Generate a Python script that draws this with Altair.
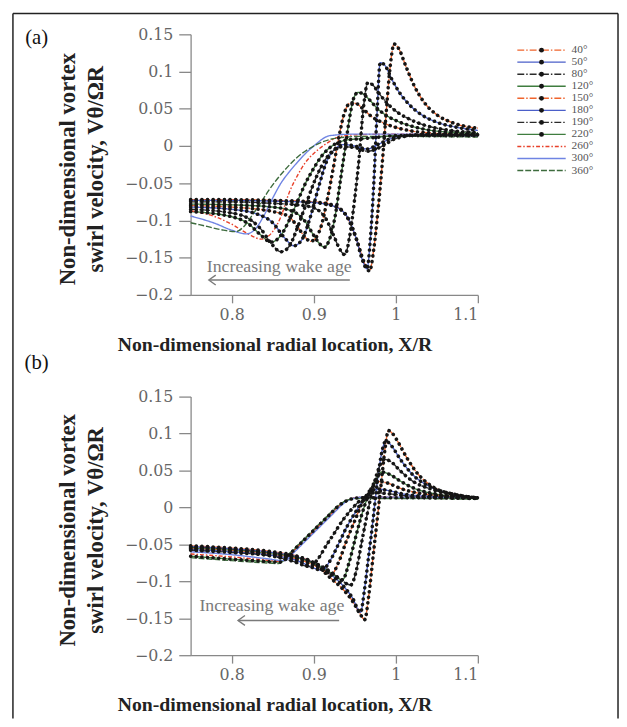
import altair as alt
import pandas as pd

# ---------------- legend / series definitions ----------------
AGES = ["40°", "50°", "80°", "120°", "150°", "180°", "190°", "220°", "260°", "300°", "360°"]
LINE_COLORS = ["#f0642d", "#4b5fc9", "#2b2b2b", "#3f7d3f", "#f0642d", "#4b5fc9",
               "#2b2b2b", "#3f7d3f", "#e8412a", "#6f84e3", "#3d6b3d"]
DASHES = [[7, 2, 1.5, 2], [1, 0], [7, 2, 1.5, 2], [1, 0], [7, 2, 1.5, 2], [1, 0],
          [7, 2, 1.5, 2], [1, 0], [4, 2, 1.5, 2], [1, 0], [6, 2]]
HAS_DOTS = [True, True, True, True, True, True, True, True, False, False, False]

X_TICKS = [0.8, 0.9, 1.0, 1.1]
Y_TICKS = [-0.2, -0.15, -0.1, -0.05, 0, 0.05, 0.1, 0.15]

# ---------------- panel (a) ----------------
A40_X = [0.75, 0.80, 0.85, 0.90, 0.925, 0.942, 0.953, 0.961, 0.968, 0.973, 0.978, 0.983, 0.988, 0.993, 0.998, 1.004, 1.012, 1.022, 1.035, 1.05, 1.07, 1.1]
A40_Y = [-0.072, -0.072, -0.073, -0.075, -0.080, -0.098, -0.128, -0.155, -0.168, -0.140, -0.090, -0.030, 0.040, 0.105, 0.137, 0.130, 0.108, 0.082, 0.058, 0.042, 0.031, 0.024]
A50_X = [0.75, 0.80, 0.85, 0.90, 0.925, 0.942, 0.952, 0.959, 0.965, 0.969, 0.973, 0.977, 0.981, 0.987, 0.995, 1.005, 1.017, 1.030, 1.050, 1.075, 1.1]
A50_Y = [-0.073, -0.073, -0.074, -0.076, -0.081, -0.097, -0.125, -0.152, -0.165, -0.125, -0.055, 0.040, 0.112, 0.108, 0.090, 0.071, 0.055, 0.043, 0.032, 0.025, 0.021]
A80_X = [0.75, 0.80, 0.85, 0.88, 0.90, 0.915, 0.925, 0.932, 0.938, 0.944, 0.950, 0.955, 0.960, 0.966, 0.972, 0.980, 0.990, 1.000, 1.015, 1.035, 1.06, 1.1]
A80_Y = [-0.075, -0.075, -0.077, -0.079, -0.083, -0.098, -0.122, -0.139, -0.146, -0.120, -0.070, -0.020, 0.045, 0.085, 0.082, 0.070, 0.057, 0.047, 0.037, 0.028, 0.022, 0.018]
A120_X = [0.75, 0.80, 0.85, 0.875, 0.89, 0.90, 0.907, 0.913, 0.919, 0.926, 0.932, 0.938, 0.944, 0.949, 0.954, 0.960, 0.968, 0.978, 0.990, 1.005, 1.025, 1.05, 1.1]
A120_Y = [-0.078, -0.079, -0.082, -0.088, -0.102, -0.120, -0.131, -0.136, -0.126, -0.095, -0.050, -0.005, 0.040, 0.065, 0.072, 0.070, 0.062, 0.050, 0.040, 0.032, 0.025, 0.020, 0.017]
A150_X = [0.75, 0.80, 0.85, 0.87, 0.88, 0.89, 0.896, 0.902, 0.909, 0.916, 0.923, 0.930, 0.937, 0.945, 0.952, 0.960, 0.970, 0.985, 1.000, 1.020, 1.050, 1.1]
A150_Y = [-0.080, -0.082, -0.088, -0.095, -0.108, -0.123, -0.128, -0.124, -0.108, -0.075, -0.035, 0.008, 0.043, 0.058, 0.057, 0.050, 0.040, 0.031, 0.025, 0.020, 0.017, 0.015]
A180_X = [0.75, 0.80, 0.83, 0.85, 0.865, 0.876, 0.886, 0.896, 0.906, 0.916, 0.926, 0.937, 0.950, 0.965, 0.980, 1.000, 1.030, 1.1]
A180_Y = [-0.082, -0.085, -0.091, -0.103, -0.124, -0.134, -0.125, -0.095, -0.055, -0.020, -0.004, 0.002, 0.000, -0.004, 0.003, 0.012, 0.015, 0.015]
A190_X = [0.75, 0.80, 0.82, 0.836, 0.849, 0.860, 0.870, 0.880, 0.890, 0.900, 0.910, 0.920, 0.935, 0.950, 0.966, 0.982, 1.000, 1.030, 1.1]
A190_Y = [-0.085, -0.090, -0.097, -0.112, -0.132, -0.142, -0.135, -0.110, -0.080, -0.050, -0.026, -0.010, -0.001, -0.002, -0.007, -0.001, 0.010, 0.015, 0.015]
A220_X = [0.75, 0.80, 0.82, 0.835, 0.848, 0.860, 0.870, 0.880, 0.890, 0.900, 0.910, 0.925, 0.940, 0.960, 0.980, 1.000, 1.1]
A220_Y = [-0.088, -0.095, -0.104, -0.119, -0.129, -0.120, -0.100, -0.075, -0.050, -0.030, -0.013, 0.002, 0.008, 0.010, 0.012, 0.014, 0.014]
A260_X = [0.75, 0.78, 0.80, 0.82, 0.836, 0.850, 0.860, 0.870, 0.880, 0.890, 0.900, 0.915, 0.930, 0.950, 1.000, 1.1]
A260_Y = [-0.087, -0.095, -0.105, -0.118, -0.125, -0.115, -0.095, -0.063, -0.040, -0.022, -0.010, 0.003, 0.012, 0.015, 0.016, 0.014]
A300_X = [0.75, 0.78, 0.80, 0.818, 0.830, 0.840, 0.850, 0.860, 0.870, 0.880, 0.890, 0.900, 0.920, 0.950, 1.000, 1.1]
A300_Y = [-0.094, -0.104, -0.113, -0.118, -0.110, -0.092, -0.070, -0.050, -0.035, -0.022, -0.010, 0.000, 0.014, 0.016, 0.016, 0.013]
A360_X = [0.75, 0.77, 0.79, 0.805, 0.815, 0.825, 0.835, 0.845, 0.855, 0.865, 0.880, 0.900, 0.930, 0.960, 1.000, 1.1]
A360_Y = [-0.103, -0.108, -0.113, -0.115, -0.108, -0.093, -0.077, -0.060, -0.045, -0.032, -0.015, 0.000, 0.011, 0.013, 0.013, 0.012]

# ---------------- panel (b) ----------------
B40_X = [0.75, 0.80, 0.85, 0.88, 0.90, 0.92, 0.935, 0.948, 0.957, 0.962, 0.967, 0.972, 0.977, 0.982, 0.987, 0.991, 0.996, 1.003, 1.012, 1.025, 1.045, 1.075, 1.1]
B40_Y = [-0.052, -0.055, -0.060, -0.066, -0.075, -0.095, -0.110, -0.128, -0.145, -0.152, -0.120, -0.070, -0.020, 0.030, 0.080, 0.104, 0.100, 0.088, 0.070, 0.048, 0.028, 0.017, 0.013]
B50_X = [0.75, 0.80, 0.85, 0.88, 0.90, 0.92, 0.935, 0.947, 0.957, 0.962, 0.967, 0.972, 0.977, 0.983, 0.988, 0.995, 1.005, 1.02, 1.04, 1.07, 1.1]
B50_Y = [-0.053, -0.056, -0.061, -0.067, -0.075, -0.090, -0.105, -0.122, -0.142, -0.110, -0.065, -0.020, 0.030, 0.075, 0.090, 0.083, 0.066, 0.045, 0.029, 0.018, 0.013]
B80_X = [0.75, 0.80, 0.85, 0.88, 0.90, 0.915, 0.93, 0.945, 0.952, 0.958, 0.965, 0.972, 0.979, 0.986, 0.994, 1.005, 1.02, 1.045, 1.075, 1.1]
B80_Y = [-0.054, -0.057, -0.062, -0.068, -0.075, -0.083, -0.095, -0.105, -0.085, -0.050, -0.010, 0.025, 0.052, 0.065, 0.062, 0.050, 0.036, 0.024, 0.016, 0.013]
B120_X = [0.75, 0.80, 0.85, 0.88, 0.90, 0.92, 0.935, 0.943, 0.95, 0.958, 0.966, 0.975, 0.983, 0.992, 1.005, 1.02, 1.05, 1.1]
B120_Y = [-0.055, -0.058, -0.063, -0.068, -0.076, -0.088, -0.098, -0.075, -0.045, -0.012, 0.015, 0.036, 0.048, 0.045, 0.036, 0.027, 0.018, 0.013]
B150_X = [0.75, 0.80, 0.85, 0.88, 0.90, 0.912, 0.922, 0.93, 0.94, 0.95, 0.96, 0.97, 0.98, 0.99, 1.005, 1.03, 1.1]
B150_Y = [-0.056, -0.059, -0.064, -0.070, -0.078, -0.085, -0.090, -0.075, -0.045, -0.018, 0.008, 0.025, 0.035, 0.033, 0.026, 0.019, 0.013]
B180_X = [0.75, 0.80, 0.85, 0.88, 0.90, 0.91, 0.92, 0.93, 0.94, 0.95, 0.962, 0.977, 0.99, 1.01, 1.04, 1.1]
B180_Y = [-0.057, -0.060, -0.065, -0.072, -0.082, -0.085, -0.072, -0.050, -0.027, -0.008, 0.012, 0.025, 0.023, 0.018, 0.015, 0.013]
B190_X = [0.75, 0.80, 0.85, 0.875, 0.895, 0.905, 0.915, 0.925, 0.935, 0.945, 0.955, 0.975, 0.995, 1.03, 1.1]
B190_Y = [-0.058, -0.061, -0.066, -0.073, -0.080, -0.070, -0.052, -0.035, -0.018, -0.004, 0.008, 0.020, 0.018, 0.014, 0.013]
B220_X = [0.75, 0.80, 0.84, 0.860, 0.870, 0.880, 0.890, 0.900, 0.910, 0.920, 0.930, 0.940, 0.955, 0.980, 1.020, 1.1]
B220_Y = [-0.066, -0.070, -0.073, -0.074, -0.064, -0.053, -0.042, -0.031, -0.020, -0.009, 0.002, 0.009, 0.013, 0.013, 0.013, 0.012]
B260_X = [0.75, 0.80, 0.84, 0.862, 0.872, 0.882, 0.892, 0.902, 0.912, 0.922, 0.932, 0.942, 0.957, 0.980, 1.020, 1.1]
B260_Y = [-0.063, -0.067, -0.071, -0.073, -0.063, -0.052, -0.041, -0.030, -0.019, -0.008, 0.003, 0.010, 0.014, 0.014, 0.014, 0.013]
B300_X = [0.75, 0.80, 0.84, 0.865, 0.875, 0.885, 0.895, 0.905, 0.915, 0.925, 0.935, 0.945, 0.960, 0.980, 1.020, 1.1]
B300_Y = [-0.060, -0.064, -0.069, -0.072, -0.062, -0.051, -0.040, -0.029, -0.018, -0.007, 0.004, 0.011, 0.014, 0.014, 0.014, 0.013]
B360_X = [0.75, 0.80, 0.84, 0.857, 0.867, 0.877, 0.887, 0.897, 0.907, 0.917, 0.927, 0.937, 0.952, 0.980, 1.020, 1.1]
B360_Y = [-0.068, -0.072, -0.075, -0.076, -0.066, -0.055, -0.044, -0.033, -0.022, -0.011, 0.000, 0.008, 0.012, 0.012, 0.012, 0.011]

# ---------------- annotations ----------------
ANN_TEXT = ["Increasing wake age"]
ANN_A_TEXT_X = [0.858]
ANN_A_TEXT_Y = [-0.163]
ANN_A_ARROW_X = [0.7724]
ANN_A_ARROW_X2 = [0.944]
ANN_A_ARROW_Y = [-0.180]
ANN_B_TEXT_X = [0.849]
ANN_B_TEXT_Y = [-0.133]
ANN_B_ARROW_X = [0.808]
ANN_B_ARROW_X2 = [0.931]
ANN_B_ARROW_Y = [-0.153]

A_SERIES = [(A40_X, A40_Y), (A50_X, A50_Y), (A80_X, A80_Y), (A120_X, A120_Y),
            (A150_X, A150_Y), (A180_X, A180_Y), (A190_X, A190_Y), (A220_X, A220_Y),
            (A260_X, A260_Y), (A300_X, A300_Y), (A360_X, A360_Y)]
B_SERIES = [(B40_X, B40_Y), (B50_X, B50_Y), (B80_X, B80_Y), (B120_X, B120_Y),
            (B150_X, B150_Y), (B180_X, B180_Y), (B190_X, B190_Y), (B220_X, B220_Y),
            (B260_X, B260_Y), (B300_X, B300_Y), (B360_X, B360_Y)]


def series_frame(series):
    rows = []
    for k, (xs, ys) in enumerate(series):
        for i, (xv, yv) in enumerate(zip(xs, ys)):
            rows.append({"age": AGES[k], "i": i, "x": xv, "y": yv, "dots": HAS_DOTS[k]})
    return pd.DataFrame(rows)


X_SCALE = alt.Scale(domain=[0.75, 1.1], nice=False, zero=False)
Y_SCALE = alt.Scale(domain=[-0.2, 0.15], nice=False, zero=False)
COLOR = alt.Color("age:N", scale=alt.Scale(domain=AGES, range=LINE_COLORS), legend=None)
DASH = alt.StrokeDash("age:N", scale=alt.Scale(domain=AGES, range=DASHES), legend=None)

SERIF = "Liberation Serif"


def x_axis():
    return alt.Axis(values=X_TICKS, format="~g", title="Non-dimensional radial location, X/R",
                    titleX=85, titleY=50, titleBaseline="middle", titleAlign="center",
                    titleFontSize=20, tickSize=8, labelPadding=4, labelOverlap=False)


def y_axis(center):
    return alt.Axis(values=Y_TICKS, format="~g",
                    title=["Non-dimensional vortex", "swirl velocity, Vθ/ΩR"],
                    titleX=-125, titleY=center, titleBaseline="middle", titleAlign="center",
                    titleLineHeight=29, titleFontSize=23, tickSize=12, labelPadding=6,
                    labelOverlap=False, labelSeparation=0)


def panel(series, ycenter, tx, ty, ax, ax2, ay, label, label_y):
    xa = x_axis()
    ya = y_axis(ycenter)

    def X(f):
        return alt.X(f, scale=X_SCALE, axis=xa)

    def Y(f):
        return alt.Y(f, scale=Y_SCALE, axis=ya)

    df = series_frame(series)
    base = alt.Chart(df)
    lines = base.mark_line(strokeWidth=1.4, interpolate="monotone").encode(
        x=X("x:Q"), y=Y("y:Q"), color=COLOR, strokeDash=DASH, order="i:Q")
    dots = base.transform_filter("datum.dots").mark_line(
        color="#151515", strokeWidth=3.6, strokeCap="round", strokeDash=[0.1, 5.6],
        interpolate="monotone").encode(x=X("x:Q"), y=Y("y:Q"), detail="age:N", order="i:Q")
    ann_df = pd.DataFrame({"x": tx, "y": ty, "t": ANN_TEXT})
    ann = alt.Chart(ann_df).mark_text(font=SERIF, fontSize=18, color="#7a7a7a").encode(
        x=X("x:Q"), y=Y("y:Q"), text="t:N")
    arr_df = pd.DataFrame({"x": ax, "x2": ax2, "y": ay})
    arrow = alt.Chart(arr_df).mark_rule(color="#7a7a7a", strokeWidth=1.4).encode(
        x=X("x:Q"), x2="x2:Q", y=Y("y:Q"))
    head = alt.Chart(arr_df).transform_calculate(hx="datum.x + 0.004").mark_point(
        shape="M0.7,-1L-0.7,0L0.7,1", filled=False, size=100, strokeWidth=1.4,
        color="#7a7a7a", opacity=1).encode(x=X("hx:Q"), y=Y("y:Q"))
    lab = alt.Chart(pd.DataFrame({"t": [label]})).mark_text(
        font=SERIF, fontSize=21, color="#111", align="center", baseline="middle").encode(
        text="t:N", x=alt.value(-156), y=alt.value(label_y))
    return [lines, dots, ann, arrow, head, lab]


one = pd.DataFrame({"k": [0]})
frame_left = alt.Chart(one).mark_rule(color="#222", strokeWidth=1.5).encode(
    x=alt.value(-180), y=alt.value(-21), y2=alt.value(693))
frame_top = alt.Chart(one).mark_rule(color="#222", strokeWidth=1.5).encode(
    x=alt.value(-180), x2=alt.value(433), y=alt.value(-21))
frame_right = alt.Chart(one).mark_rule(color="#222", strokeWidth=1.5).encode(
    x=alt.value(433), y=alt.value(-21), y2=alt.value(693))

top_layers = panel(A_SERIES, 136, ANN_A_TEXT_X, ANN_A_TEXT_Y, ANN_A_ARROW_X,
                   ANN_A_ARROW_X2, ANN_A_ARROW_Y, "(a)", 4)
main_a = alt.layer(frame_left, frame_top, frame_right, *top_layers)

leg_df = pd.DataFrame({"age": AGES, "dots": HAS_DOTS})
LEG_Y = alt.Y("age:N", sort=AGES,
              scale=alt.Scale(type="point", domain=AGES, range=[16, 138], padding=0),
              axis=None)
leg_lines = alt.Chart(leg_df).mark_rule(strokeWidth=1.4).encode(
    y=LEG_Y, x=alt.value(331), x2=alt.value(380), color=COLOR, strokeDash=DASH)
leg_dots = alt.Chart(leg_df).transform_filter("datum.dots").mark_point(
    filled=True, color="#151515", size=24, opacity=1).encode(y=LEG_Y, x=alt.value(355.5))
leg_text = alt.Chart(leg_df).mark_text(
    align="left", baseline="middle", font=SERIF, fontSize=11.5, color="#555").encode(
    y=LEG_Y, x=alt.value(386), text="age:N")
legend = alt.layer(leg_lines, leg_dots, leg_text)

top = alt.layer(main_a, legend).resolve_scale(y="independent").properties(width=291, height=264)

bottom_layers = panel(B_SERIES, 135, ANN_B_TEXT_X, ANN_B_TEXT_Y, ANN_B_ARROW_X,
                      ANN_B_ARROW_X2, ANN_B_ARROW_Y, "(b)", -34)
bottom = alt.layer(*bottom_layers).properties(width=291, height=262)

PAD = {"left": 4, "top": 0, "right": 0, "bottom": 0}

chart = alt.vconcat(
    top, bottom, spacing=103, bounds="flush",
    padding=PAD,
    autosize=alt.AutoSizeParams(type="pad"),
).configure(padding=PAD).configure_view(stroke=None).configure_axis(
    domainColor="#888", tickColor="#888", labelColor="#666", titleColor="#222",
    labelFont="DejaVu Serif", labelFontSize=16, titleFont=SERIF, titleFontWeight="bold",
    grid=False, domainWidth=1.3, tickWidth=1.3, labelOverlap=False
)

chart.save("out.html", embed_options={"renderer": "svg", "actions": False, "padding": PAD})
